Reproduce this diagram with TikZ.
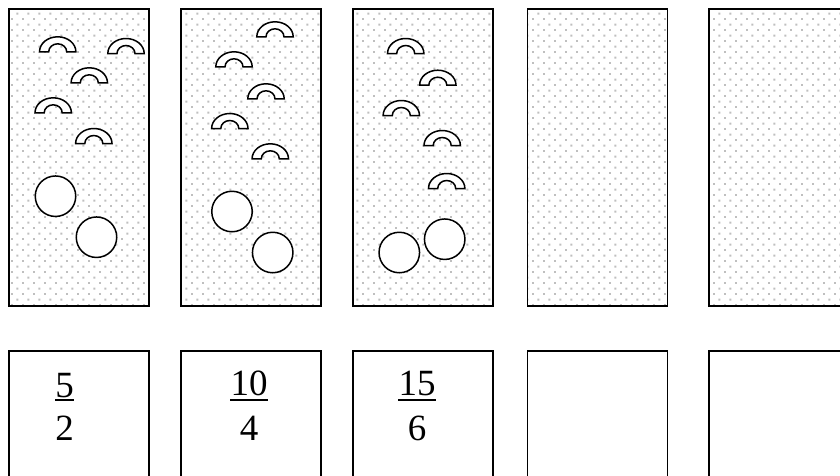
\documentclass[tikz,border=0pt]{standalone}
\usepackage{fontspec}
\setmainfont{Liberation Serif}
\usetikzlibrary{patterns.meta}
\tikzdeclarepattern{
  name=griddots,
  type=uncolored,
  bounding box={(0pt,0pt) and (11.33pt,11.33pt)},
  tile size={(11.33pt,11.33pt)},
  code={
    \fill (0pt,0pt) rectangle (2pt,2pt);
    \fill (5.67pt,5.67pt) rectangle (7.67pt,7.67pt);
  }
}
\tikzset{
  topbox/.style={draw, line width=1.8pt, minimum width=140pt, minimum height=297pt,
    inner sep=0pt, pattern={griddots}, pattern color=black!25},
  botbox/.style={draw, line width=1.8pt, minimum width=140pt, minimum height=140pt, inner sep=0pt},
  archline/.style={draw, line width=1.5pt, fill=white, line join=miter},
  arch/.pic={\path[archline] (-18.2,0) arc[start angle=180,end angle=360,x radius=18.2,y radius=15]
      -- (9,0) arc[start angle=0,end angle=-180,x radius=9,y radius=8] -- cycle;},
  ball/.style={circle, draw, line width=1.5pt, fill=white, minimum size=40.5pt, inner sep=0pt},
  fractext/.style={inner sep=0pt, anchor=base, font=\fontsize{37}{40}\selectfont},
  fracbar/.style={line width=1.6pt}
}
\begin{document}
\begin{tikzpicture}[x=1pt,y=-1pt]
\useasboundingbox (0,0) rectangle (840,475);
\clip (0,0) rectangle (840,475);
% top boxes
\node[topbox] (t1) at (79,157.5) {};
\node[topbox] (t2) at (251,157.5) {};
\node[topbox] (t3) at (423,157.5) {};
\node[topbox] (t4) at (597.5,157.5) {};
\node[topbox] (t5) at (779.3,157.5) {};
% bottom boxes
\node[botbox] (b1) at (79,420.7) {};
\node[botbox] (b2) at (251,420.7) {};
\node[botbox] (b3) at (423,420.7) {};
\node[botbox] (b4) at (597.5,420.7) {};
\node[botbox] (b5) at (779.3,420.7) {};
% box 1 contents
\pic at (57.7,51.8) {arch};
\pic at (126,53.5) {arch};
\pic at (89.3,82.8) {arch};
\pic at (53.2,112.8) {arch};
\pic at (93.8,143.5) {arch};
\node[ball] (c11) at (55.5,196.2) {};
\node[ball] (c12) at (96.5,237.2) {};
% box 2 contents
\pic at (275,36.8) {arch};
\pic at (234,66.8) {arch};
\pic at (266,98.8) {arch};
\pic at (229.8,128.5) {arch};
\pic at (270.3,158.8) {arch};
\node[ball] (c21) at (232,211.5) {};
\node[ball] (c22) at (272.7,252.5) {};
% box 3 contents
\pic at (405.7,53.5) {arch};
\pic at (437.8,85.2) {arch};
\pic at (401.3,115.5) {arch};
\pic at (442.2,145.5) {arch};
\pic at (446.7,188.5) {arch};
\node[ball] (c31) at (399.3,252.5) {};
\node[ball] (c32) at (444.7,239.2) {};
% fractions
\node[fractext] (n1) at (64.5,397) {5};
\node[fractext] (d1) at (64.5,440) {2};
\draw[fracbar] ([yshift=-3pt]n1.base west) -- ([yshift=-3pt]n1.base east);
\node[fractext] (n2) at (249,395) {10};
\node[fractext] (d2) at (249,440) {4};
\draw[fracbar] ([yshift=-5pt]n2.base west) -- ([yshift=-5pt]n2.base east);
\node[fractext] (n3) at (417,395) {15};
\node[fractext] (d3) at (417,440) {6};
\draw[fracbar] ([yshift=-5pt]n3.base west) -- ([yshift=-5pt]n3.base east);
\end{tikzpicture}
\end{document}
